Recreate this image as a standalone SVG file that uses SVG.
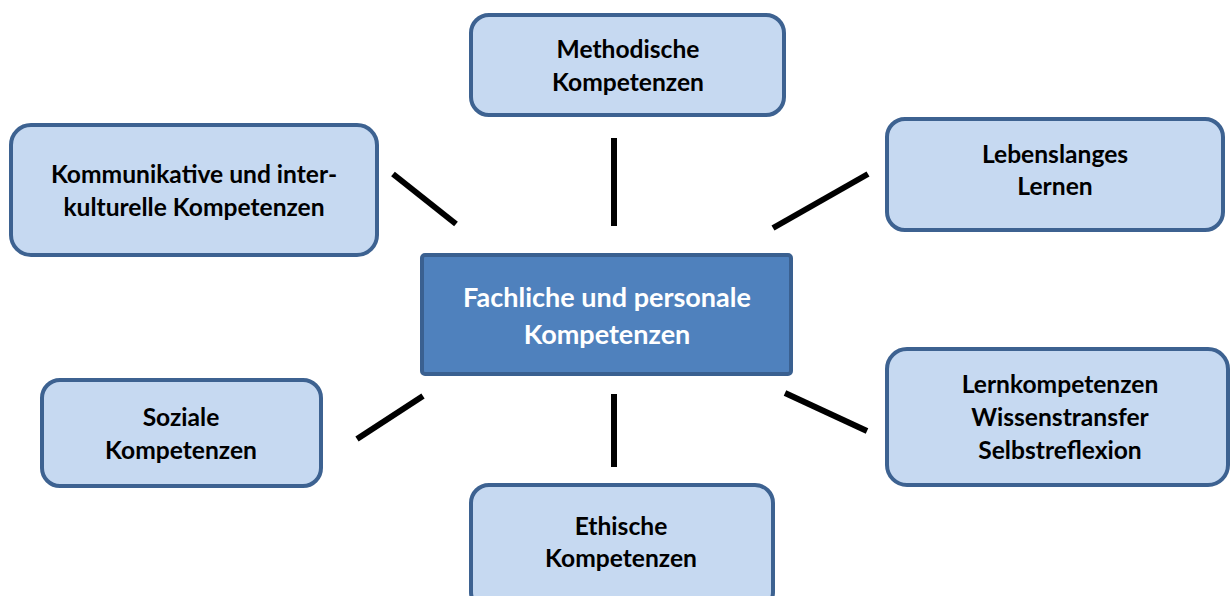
<svg xmlns="http://www.w3.org/2000/svg" width="1230" height="596" viewBox="0 0 1230 596">
<style>
.box{fill:#c6d9f1;stroke:#3d6291;stroke-width:4}
.center{fill:#4f81bd;stroke:#3a6090;stroke-width:4}
.t{font-family:Lato,"Open Sans","Liberation Sans",sans-serif;font-weight:bold;font-size:24.6px;text-anchor:middle;fill:#000}
.tw{fill:#fff;font-size:27px}
.c{stroke:#000;stroke-width:6;fill:none}
</style>
<rect width="1230" height="596" fill="#fff"/>
<g id="connectors">
<line class="c" x1="614" y1="138" x2="614" y2="226"/>
<line class="c" x1="393" y1="174" x2="456" y2="224"/>
<line class="c" x1="773" y1="228" x2="868" y2="174"/>
<line class="c" x1="357" y1="439" x2="423" y2="396"/>
<line class="c" x1="614" y1="394" x2="614" y2="467"/>
<line class="c" x1="785" y1="393" x2="867" y2="431"/>
</g>
<g id="center">
<rect class="center" x="422" y="255" width="369" height="119" rx="3"/>
<text class="t tw" x="607" y="307">Fachliche und personale</text>
<text class="t tw" x="607" y="344">Kompetenzen</text>
</g>
<g id="methodisch">
<rect class="box" x="471" y="15" width="313" height="100" rx="18"/>
<text class="t" x="628" y="58">Methodische</text>
<text class="t" x="628" y="91">Kompetenzen</text>
</g>
<g id="kommunikativ">
<rect class="box" x="11" y="125" width="366" height="130" rx="20"/>
<text class="t" x="194" y="183">Kommunikative und inter-</text>
<text class="t" x="194" y="216">kulturelle Kompetenzen</text>
</g>
<g id="lebenslang">
<rect class="box" x="887" y="119" width="336" height="111" rx="18"/>
<text class="t" x="1055" y="163">Lebenslanges</text>
<text class="t" x="1055" y="195">Lernen</text>
</g>
<g id="sozial">
<rect class="box" x="42" y="380" width="279" height="106" rx="18"/>
<text class="t" x="181" y="426">Soziale</text>
<text class="t" x="181" y="459">Kompetenzen</text>
</g>
<g id="lernkompetenz">
<rect class="box" x="887" y="349" width="341" height="136" rx="20"/>
<text class="t" x="1060" y="393">Lernkompetenzen</text>
<text class="t" x="1060" y="426">Wissenstransfer</text>
<text class="t" x="1060" y="459">Selbstreflexion</text>
</g>
<g id="ethisch">
<rect class="box" x="471" y="485" width="302" height="125" rx="18"/>
<text class="t" x="621" y="535">Ethische</text>
<text class="t" x="621" y="567">Kompetenzen</text>
</g>
</svg>
